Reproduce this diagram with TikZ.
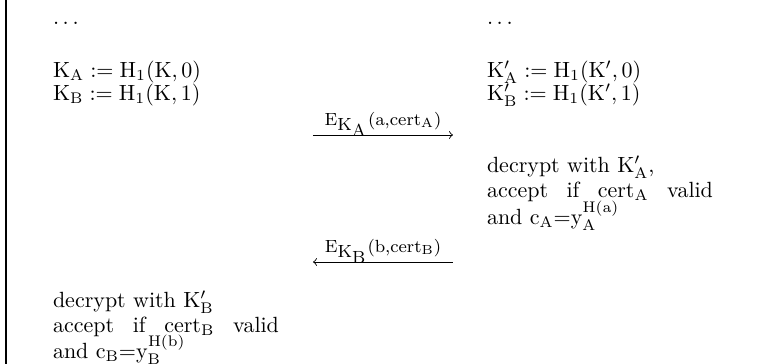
\documentclass[tikz,border=0pt]{standalone}
\begin{document}
\begin{tikzpicture}[x=0.4545pt,y=-0.4545pt,
  txt/.style={anchor=base west,inner sep=0pt,outer sep=0pt},
  lbl/.style={anchor=base,inner sep=0pt,outer sep=0pt,font=\large},
  msg/.style={->,line width=0.4pt},
  frame/.style={line width=0.6pt}]
\useasboundingbox (0,0) rectangle (759,364);
% left frame line
\coordinate (ftop) at (6,0);
\coordinate (fbot) at (6,364);
\draw[frame] (ftop) -- (fbot);
% left column
\node[txt] (ldots) at (53,24) {$\ldots$};
\node[txt] (lka) at (53,77) {$\mathrm{K_A := H_1(K,0)}$};
\node[txt] (lkb) at (53,100) {$\mathrm{K_B := H_1(K,1)}$};
% right column
\node[txt] (rdots) at (487,24) {$\ldots$};
\node[txt] (rka) at (487,77) {$\mathrm{K'_A := H_1(K',0)}$};
\node[txt] (rkb) at (487,100) {$\mathrm{K'_B := H_1(K',1)}$};
% message 1
\coordinate (m1s) at (313,135);
\coordinate (m1e) at (453,135);
\draw[msg] (m1s) -- (m1e);
\node[lbl] (m1l) at (383,125) {$\scriptstyle\mathrm{E}_{\scriptstyle\mathrm{K}_{\scriptstyle\mathrm{A}}}\mathrm{(a,cert_A)}$};
% right checks
\node[txt] (rdec) at (487,172) {decrypt with $\mathrm{K'_A}$,};
\node[txt] (racc) at (487,197) {\makebox[102.7pt][s]{accept if $\mathrm{cert_A}$ valid}};
\node[txt] (rand) at (487,224) {and $\mathrm{c_A}$=$\mathrm{y_A^{H(a)}}$};
% message 2
\coordinate (m2s) at (453,262);
\coordinate (m2e) at (313,262);
\draw[msg] (m2s) -- (m2e);
\node[lbl] (m2l) at (383,252) {$\scriptstyle\mathrm{E}_{\scriptstyle\mathrm{K}_{\scriptstyle\mathrm{B}}}\mathrm{(b,cert_B)}$};
% left checks
\node[txt] (ldec) at (53,307) {decrypt with $\mathrm{K'_B}$};
\node[txt] (lacc) at (53,332) {\makebox[102.7pt][s]{accept if $\mathrm{cert_B}$ valid}};
\node[txt] (land) at (53,358) {and $\mathrm{c_B}$=$\mathrm{y_B^{H(b)}}$};
\end{tikzpicture}
\end{document}
